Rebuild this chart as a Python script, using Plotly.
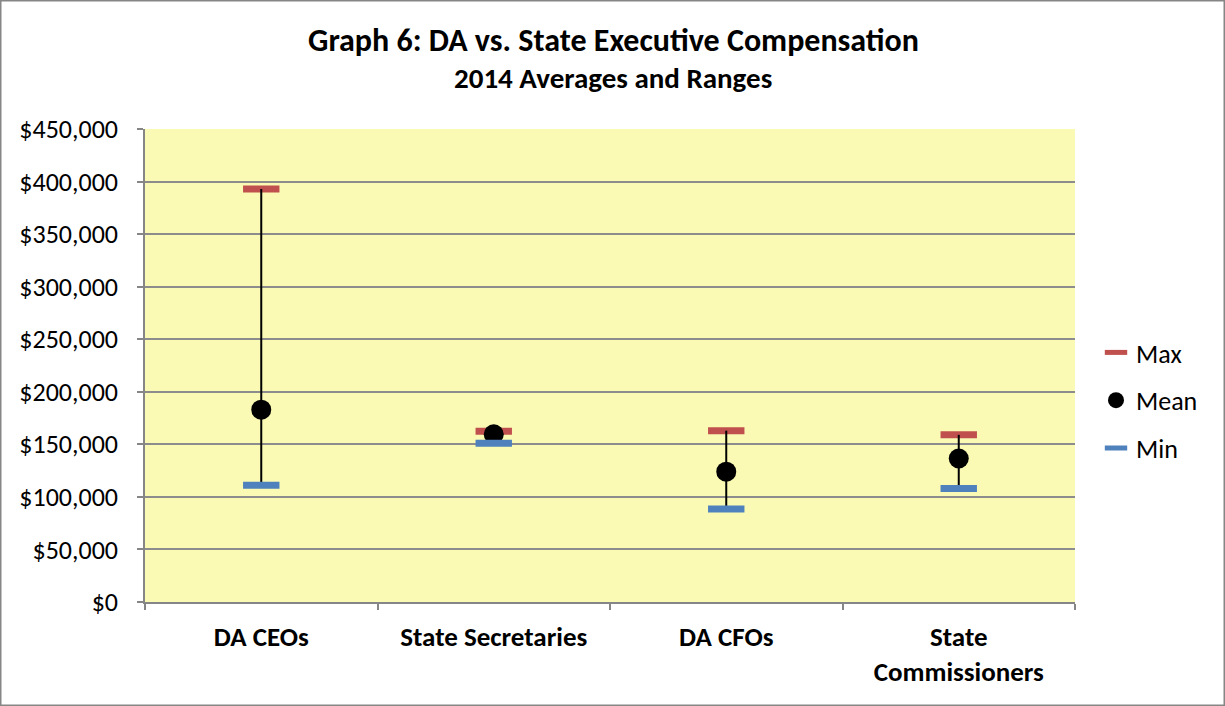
import plotly.graph_objects as go

categories = ["DA CEOs", "State Secretaries", "DA CFOs", "State<br>Commissioners"]
max_vals = [393000, 162500, 163000, 159000]
mean_vals = [183000, 159500, 124000, 136500]
min_vals = [111000, 151000, 88500, 108000]

y_ticks = [0, 50000, 100000, 150000, 200000, 250000, 300000, 350000, 400000, 450000]
y_tick_text = ["$0", "$50,000", "$100,000", "$150,000", "$200,000", "$250,000",
               "$300,000", "$350,000", "$400,000", "$450,000"]

FONT = "Carlito, Calibri, Lato, sans-serif"

err_plus = [mx - m for mx, m in zip(max_vals, mean_vals)]
err_minus = [m - mn for m, mn in zip(mean_vals, min_vals)]

fig = go.Figure()

fig.add_trace(go.Scatter(
    x=categories, y=max_vals, mode="markers", name="Max",
    marker=dict(symbol="line-ew", size=26, line=dict(width=7, color="#C0504D")),
    legendgroup="a",
))
fig.add_trace(go.Scatter(
    x=categories, y=mean_vals, mode="markers", name="Mean",
    marker=dict(symbol="circle", size=20, color="black"),
    error_y=dict(type="data", symmetric=False, array=err_plus, arrayminus=err_minus,
                 color="black", thickness=2, width=0),
    legendgroup="b",
))
fig.add_trace(go.Scatter(
    x=categories, y=min_vals, mode="markers", name="Min",
    marker=dict(symbol="line-ew", size=26, line=dict(width=7, color="#4F81BD")),
    legendgroup="c",
))

W, H = 1225, 706
L, R, T, B = 145, 150, 129, 104
pw, ph = W - L - R, H - T - B

fig.update_layout(
    width=W, height=H,
    margin=dict(l=L, r=R, t=T, b=B, pad=0),
    paper_bgcolor="white",
    plot_bgcolor="#FAFAB4",
    font=dict(family=FONT, size=20, color="black"),
    showlegend=True,
    legend=dict(x=(1096 - L) / pw, y=(H - 329 - B) / ph, xanchor="left", yanchor="top",
                font=dict(size=26), tracegroupgap=11, itemsizing="trace",
                bgcolor="rgba(0,0,0,0)"),
    xaxis=dict(
        type="category", range=[-0.5, 3.5], showgrid=False,
        showline=True, linecolor="#868686", linewidth=1.5,
        ticks="outside", tickson="boundaries", ticklen=6, tickcolor="#868686", tickwidth=1.5,
        tickfont=dict(family=FONT, size=27, color="black", weight="bold"),
        ticklabelstandoff=10,
    ),
    yaxis=dict(
        range=[0, 450000], tickvals=y_ticks, ticktext=y_tick_text,
        showgrid=True, gridcolor="#8C8C8C", gridwidth=1.5,
        showline=True, linecolor="#868686", linewidth=1.5,
        ticks="outside", ticklen=6, tickcolor="#868686", tickwidth=1.5,
        tickfont=dict(family=FONT, size=26, color="black"),
        ticklabelstandoff=14, zeroline=False,
    ),
    annotations=[
        dict(text="<b>Graph 6: DA vs. State Executive Compensation</b>", xref="paper", yref="paper",
             x=(613 - L) / pw, y=(H - 41 - B) / ph, showarrow=False, xanchor="center", yanchor="middle",
             font=dict(family=FONT, size=32, color="black")),
        dict(text="<b>2014 Averages and Ranges</b>", xref="paper", yref="paper",
             x=(613 - L) / pw, y=(H - 78 - B) / ph, showarrow=False, xanchor="center", yanchor="middle",
             font=dict(family=FONT, size=29, color="black")),
    ],
    shapes=[
        dict(type="rect", xref="paper", yref="paper",
             x0=(0.75 - L) / pw, x1=(W - 0.75 - L) / pw,
             y0=(0.75 - B) / ph, y1=(H - 0.75 - B) / ph,
             line=dict(color="#868686", width=1.5), fillcolor="rgba(0,0,0,0)", layer="above"),
    ],
)

fig.write_html("out.html", config={"displayModeBar": False},
               post_script="document.body.style.margin='0';")
